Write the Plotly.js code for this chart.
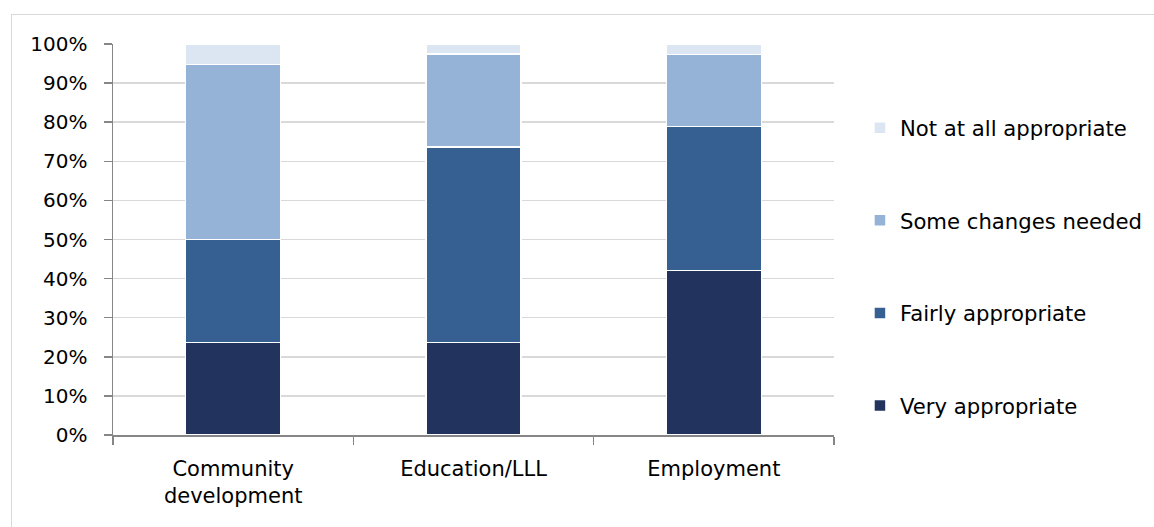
<!DOCTYPE html>
<html>
<head>
<meta charset="utf-8">
<script src="https://cdn.plot.ly/plotly-3.0.1.min.js"></script>
<style>
  html, body { margin: 0; padding: 0; background: #ffffff; }
  #wrap { position: relative; width: 1154px; height: 527px; overflow: hidden; }
  #frame { position: absolute; left: 11px; top: 14px; width: 1160px; height: 540px; border: 1px solid #d9d9d9; box-sizing: border-box; }
  #chart { position: absolute; left: 0; top: 0; width: 1154px; height: 527px; }
</style>
</head>
<body>
<div id="wrap">
  <div id="frame"></div>
  <div id="chart"></div>
</div>
<script>
const categories = ["Community<br>development", "Education/LLL", "Employment"];
const veryAppropriate = [23.7, 23.7, 42.1];
const fairlyAppropriate = [26.3, 50.0, 36.8];
const someChangesNeeded = [44.7, 23.7, 18.4];
const notAtAllAppropriate = [5.3, 2.6, 2.6];
const seriesNames = ["Very appropriate", "Fairly appropriate", "Some changes needed", "Not at all appropriate"];
const seriesColors = ["#22345e", "#366092", "#95b3d7", "#dce6f2"];
const seriesValues = [veryAppropriate, fairlyAppropriate, someChangesNeeded, notAtAllAppropriate];

const traces = seriesValues.map((vals, i) => ({
  type: "bar",
  name: seriesNames[i],
  x: categories,
  y: vals,
  legendgroup: "g" + i,
  legendrank: 10 - i,
  marker: { color: seriesColors[i], line: { color: "#ffffff", width: 1.5 } },
  hoverinfo: "name+y"
}));

const font = "DejaVu Sans, Open Sans, sans-serif";

const layout = {
  width: 1154,
  height: 527,
  barmode: "stack",
  bargap: 0.605,
  paper_bgcolor: "rgba(0,0,0,0)",
  plot_bgcolor: "rgba(0,0,0,0)",
  margin: { l: 113, r: 320, t: 44, b: 92, pad: 0, autoexpand: false },
  font: { family: font, size: 20, color: "#000000" },
  xaxis: {
    type: "category",
    showline: true,
    linecolor: "#868686",
    linewidth: 1.5,
    ticks: "outside",
    tickson: "boundaries",
    ticklen: 8,
    tickcolor: "#868686",
    tickwidth: 1.5,
    showgrid: false,
    automargin: false,
    ticklabelstandoff: 14,
    tickfont: { family: font, size: 21, color: "#000000" }
  },
  yaxis: {
    range: [0, 100],
    dtick: 10,
    ticksuffix: "%",
    showline: true,
    linecolor: "#868686",
    linewidth: 1.5,
    ticks: "outside",
    ticklen: 8,
    tickcolor: "#868686",
    tickwidth: 1.5,
    showgrid: true,
    gridcolor: "#d9d9d9",
    gridwidth: 1.5,
    zeroline: false,
    automargin: false,
    ticklabelstandoff: 12,
    tickfont: { family: font, size: 20, color: "#000000" }
  },
  legend: {
    xref: "container",
    yref: "container",
    x: 0.7452,
    xanchor: "left",
    y: 0.796,
    yanchor: "top",
    maxheight: 420,
    traceorder: "grouped",
    tracegroupgap: 62,
    font: { family: font, size: 21.2, color: "#000000" },
    bgcolor: "rgba(0,0,0,0)",
    itemclick: false
  },
  showlegend: true
};

Plotly.newPlot("chart", traces, layout, { displayModeBar: false, staticPlot: true });
</script>
</body>
</html>
